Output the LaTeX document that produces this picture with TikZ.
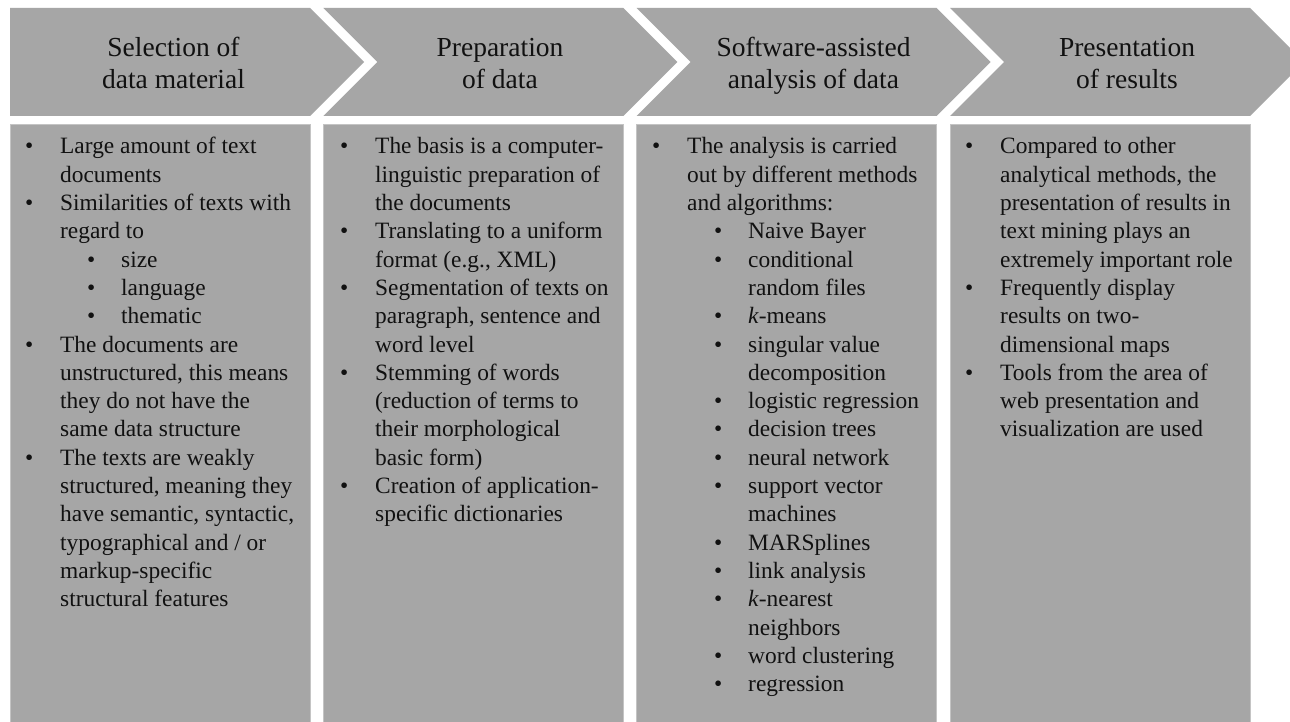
\documentclass[tikz,border=0pt]{standalone}
\usepackage{fontspec}
\setmainfont{Liberation Serif}
\definecolor{boxgray}{HTML}{A6A6A6}
\definecolor{edgegray}{HTML}{C4C4C4}
\definecolor{inkblack}{HTML}{111111}
\newenvironment{blist}{\begin{list}{\textbullet}{\setlength{\leftmargin}{35pt}\setlength{\rightmargin}{0pt}\setlength{\labelwidth}{35pt}\setlength{\labelsep}{0pt}\setlength{\itemindent}{0pt}\setlength{\itemsep}{0pt}\setlength{\parsep}{0pt}\setlength{\topsep}{0pt}\setlength{\partopsep}{0pt}\setlength{\listparindent}{0pt}\def\makelabel##1{##1\hfil}}}{\end{list}}
\newenvironment{sublist}{\begin{list}{\textbullet}{\setlength{\leftmargin}{61pt}\setlength{\rightmargin}{0pt}\setlength{\labelwidth}{34pt}\setlength{\labelsep}{0pt}\setlength{\itemindent}{0pt}\setlength{\itemsep}{0pt}\setlength{\parsep}{0pt}\setlength{\topsep}{0pt}\setlength{\partopsep}{0pt}\setlength{\listparindent}{0pt}\def\makelabel##1{##1\hfil}}}{\end{list}}
\newcommand{\bodyfont}{\fontsize{23.4}{28.3}\selectfont}
\newcommand{\headfont}{\fontsize{27.5}{32}\selectfont}
\begin{document}
\begin{tikzpicture}[x=1pt,y=-1pt,
  chev/.style={fill=boxgray},
  panel/.style={fill=boxgray,draw=edgegray,line width=1pt},
  head/.style={font=\headfont,align=center,inner sep=0pt,text=inkblack},
  body/.style={anchor=base west,inner sep=0pt,text=inkblack,font=\bodyfont}]
\path[use as bounding box] (0,0) rectangle (1290,722);
\clip (0,0) rectangle (1290,722);
\fill[white] (0,0) rectangle (1290,722);
% chevrons
\fill[chev] (10,8) -- (310,8) -- (364,62) -- (310,116) -- (10,116) -- cycle;
\foreach \L in {323.3,636.7,950}{
  \fill[chev] (\L,8) -- (\L+300,8) -- (\L+354,62) -- (\L+300,116) -- (\L,116) -- (\L+54,62) -- cycle;
}
% panels
\draw[panel] (10,125) rectangle (310,740);
\draw[panel] (323.3,125) rectangle (623.3,740);
\draw[panel] (636.7,125) rectangle (936.7,740);
\draw[panel] (950,125) rectangle (1250,740);
% headers
\node[head] (h1) at (173.5,66) {\strut Selection of\\data material\strut};
\node[head] (h2) at (500,66) {\strut Preparation\\of data\strut};
\node[head] (h3) at (813.5,66) {\strut Software-assisted\\analysis of data\strut};
\node[head] (h4) at (1127,66) {\strut Presentation\\of results\strut};
% bodies
\node[body] (b1) at (25,154) {\begin{minipage}[t]{330pt}\bodyfont\raggedright
\begin{blist}
\item Large amount of text\\documents
\item Similarities of texts with\\regard to
\begin{sublist}
\item size
\item language
\item thematic
\end{sublist}
\item The documents are\\unstructured, this means\\they do not have the\\same data structure
\item The texts are weakly\\structured, meaning they\\have semantic, syntactic,\\typographical and / or\\markup-specific\\structural features
\end{blist}\end{minipage}};
\node[body] (b2) at (340,154) {\begin{minipage}[t]{330pt}\bodyfont\raggedright
\begin{blist}
\item The basis is a computer-\\linguistic preparation of\\the documents
\item Translating to a uniform\\format (e.g., XML)
\item Segmentation of texts on\\paragraph, sentence and\\word level
\item Stemming of words\\(reduction of terms to\\their morphological\\basic form)
\item Creation of application-\\specific dictionaries
\end{blist}\end{minipage}};
\node[body] (b3) at (652,154) {\begin{minipage}[t]{330pt}\bodyfont\raggedright
\begin{blist}
\item The analysis is carried\\out by different methods\\and algorithms:
\begin{sublist}
\item Naive Bayer
\item conditional\\random files
\item \textit{k}-means
\item singular value\\decomposition
\item logistic regression
\item decision trees
\item neural network
\item support vector\\machines
\item MARSplines
\item link analysis
\item \textit{k}-nearest\\neighbors
\item word clustering
\item regression
\end{sublist}
\end{blist}\end{minipage}};
\node[body] (b4) at (965,154) {\begin{minipage}[t]{330pt}\bodyfont\raggedright
\begin{blist}
\item Compared to other\\analytical methods, the\\presentation of results in\\text mining plays an\\extremely important role
\item Frequently display\\results on two-\\dimensional maps
\item Tools from the area of\\web presentation and\\visualization are used
\end{blist}\end{minipage}};
\end{tikzpicture}
\end{document}
